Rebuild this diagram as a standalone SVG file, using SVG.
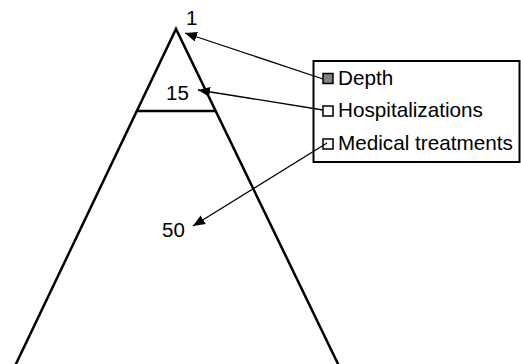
<svg xmlns="http://www.w3.org/2000/svg" width="521" height="364" viewBox="0 0 521 364">
<style>
.t{font-family:"Liberation Sans",Arial,sans-serif;font-size:20.5px;fill:#000}
.lg{font-family:"Liberation Sans",Arial,sans-serif;font-size:20.7px;fill:#000}
.c{stroke:#000;stroke-width:1.3;fill:none}
.sw{stroke:#000;stroke-width:1.5}
</style>
<defs>
<marker id="ah" viewBox="0 0 12 10" refX="12" refY="5" markerWidth="12" markerHeight="10" markerUnits="userSpaceOnUse" orient="auto">
<path d="M0,0 L12,5 L0,10 z" fill="#000"/>
</marker>
</defs>
<g id="pyramid">
<polyline points="15,366 176,29 339,366" fill="none" stroke="#000" stroke-width="2.5"/>
<line x1="136" y1="111" x2="216" y2="111" stroke="#000" stroke-width="2.5"/>
<text class="t" x="186" y="25">1</text>
<text class="t" x="166" y="100">15</text>
<text class="t" x="162" y="237">50</text>
</g>
<g id="legend">
<rect x="313.5" y="61" width="206" height="101" fill="#fff" stroke="#000" stroke-width="2"/>
<rect class="sw" x="323" y="73.5" width="10" height="10" fill="#808080"/>
<rect class="sw" x="323" y="106" width="10" height="10" fill="#fff"/>
<rect class="sw" x="323" y="139" width="10" height="10" fill="#fff"/>
<text class="lg" x="338" y="85">Depth</text>
<text class="lg" x="338" y="117">Hospitalizations</text>
<text class="lg" x="338" y="150">Medical treatments</text>
</g>
<g id="connectors">
<line class="c" x1="323" y1="79" x2="185" y2="33" marker-end="url(#ah)"/>
<line class="c" x1="323" y1="110" x2="198" y2="90" marker-end="url(#ah)"/>
<line class="c" x1="327" y1="143" x2="193" y2="226" marker-end="url(#ah)"/>
</g>
</svg>
